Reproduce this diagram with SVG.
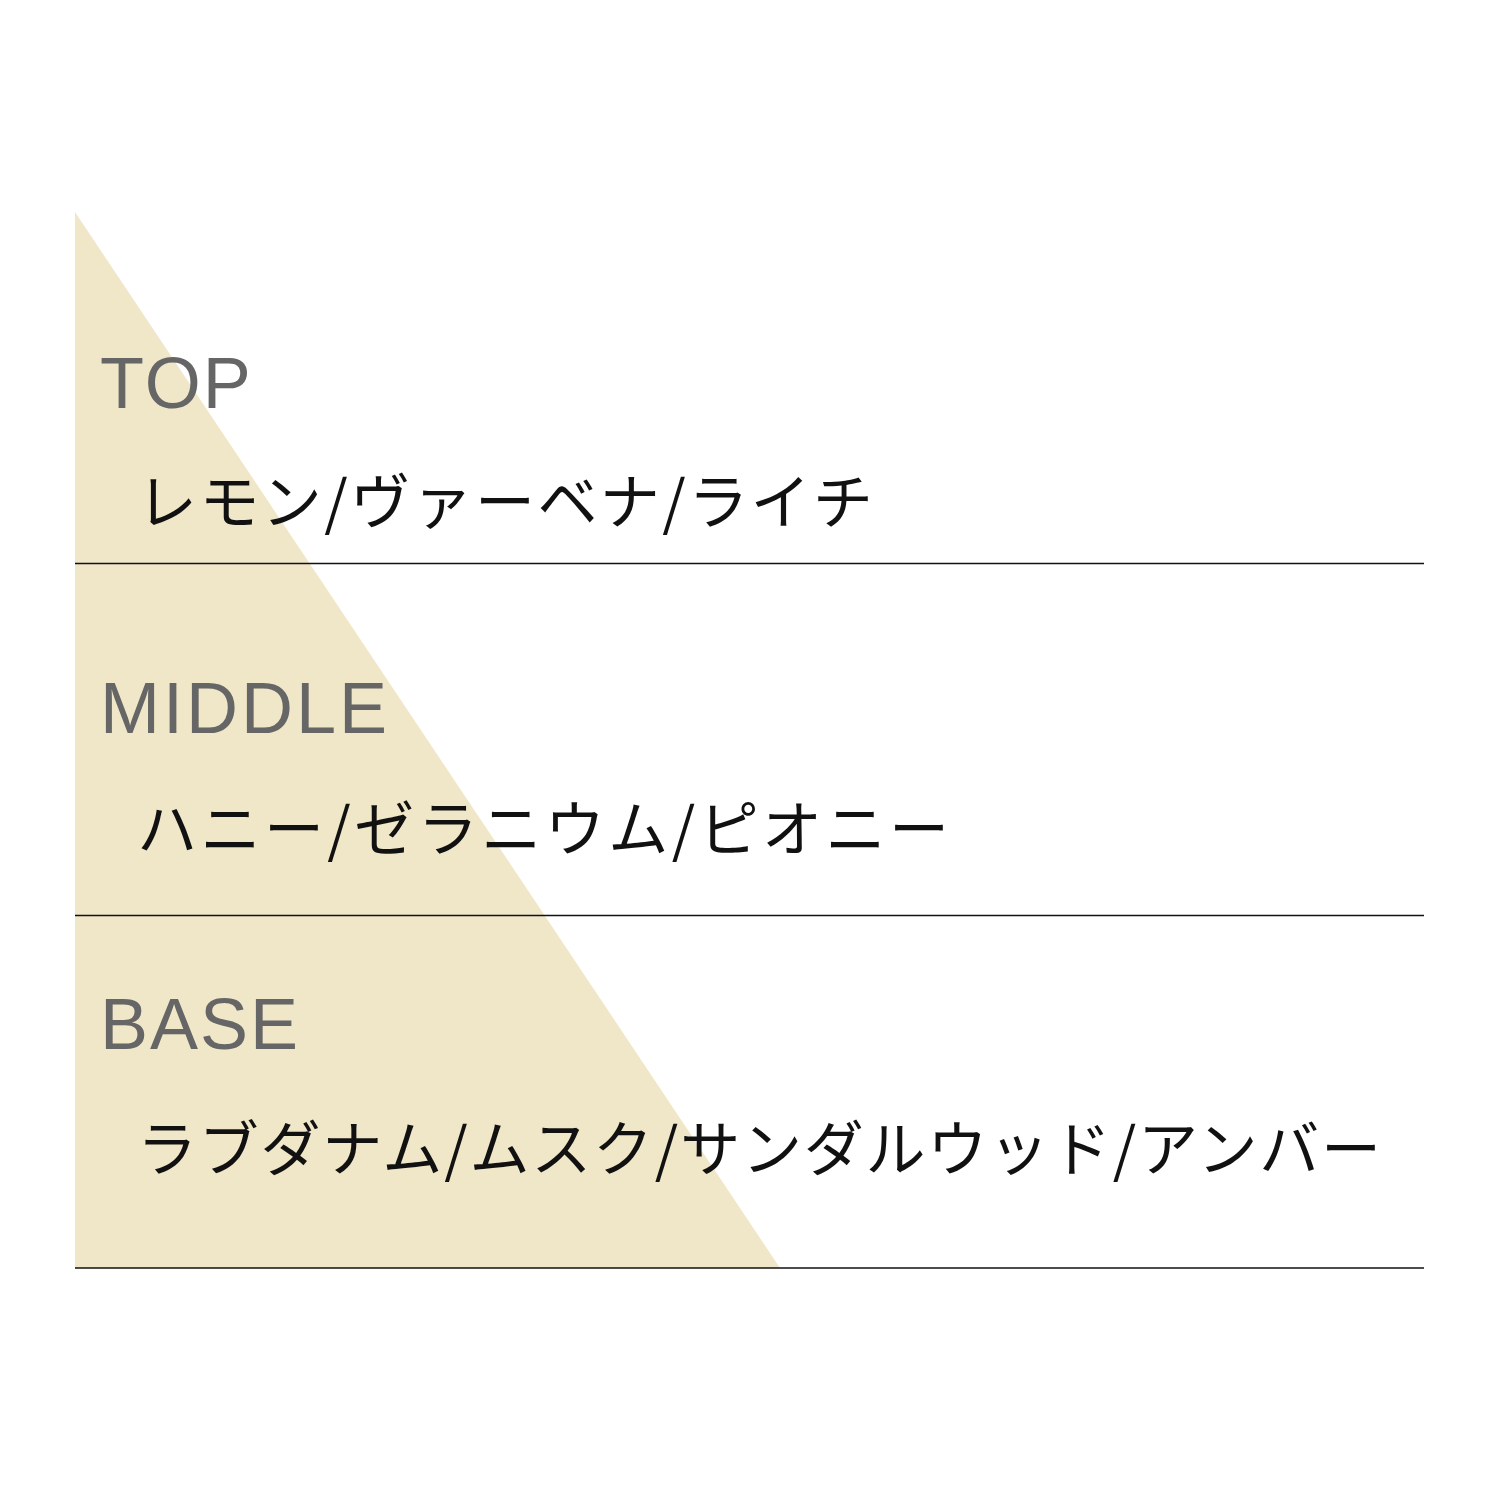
<svg xmlns="http://www.w3.org/2000/svg" width="1500" height="1500" viewBox="0 0 1500 1500">
<style>
.lbl{font-family:"Liberation Sans",Arial,sans-serif;font-size:72px;fill:#666666;letter-spacing:2px}
.jp{font-family:"Noto Sans CJK JP","Noto Sans",sans-serif;font-size:60px;fill:#111111}
.rule{stroke:#111111;stroke-width:1.5;fill:none}
</style>
<rect width="1500" height="1500" fill="#ffffff"/>
<g id="pyramid"><polygon points="75,212 75,1268 780,1268" fill="#F0E6C8"/></g>
<g id="connectors">
<line class="rule" x1="75" y1="563.5" x2="1424" y2="563.5"/>
<line class="rule" x1="75" y1="915.5" x2="1424" y2="915.5"/>
<line class="rule" x1="75" y1="1268" x2="1424" y2="1268"/>
</g>
<g id="top"><text class="lbl" x="100" y="408">TOP</text>
<text class="jp" x="137" y="524" textLength="736" lengthAdjust="spacing">レモン/ヴァーベナ/ライチ</text></g>
<g id="middle"><text class="lbl" x="100" y="733" style="letter-spacing:3px">MIDDLE</text>
<text class="jp" x="137" y="851" textLength="812" lengthAdjust="spacing">ハニー/ゼラニウム/ピオニー</text></g>
<g id="base"><text class="lbl" x="100" y="1049">BASE</text>
<text class="jp" x="137" y="1171" textLength="1244" lengthAdjust="spacing">ラブダナム/ムスク/サンダルウッド/アンバー</text></g>
</svg>
